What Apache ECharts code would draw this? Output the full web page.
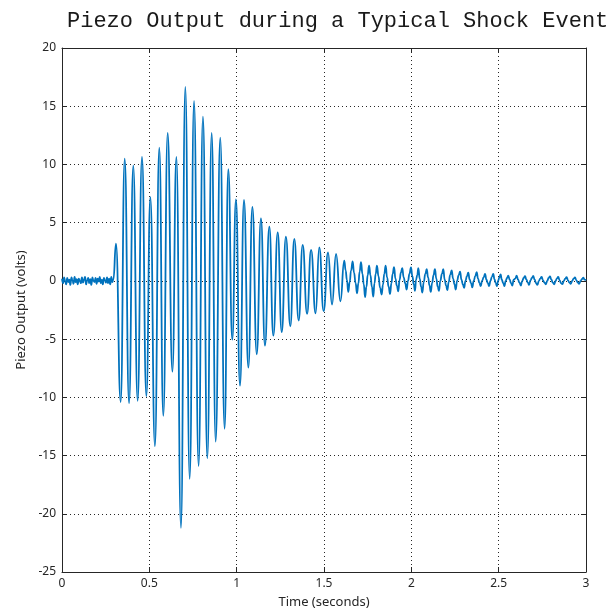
<!DOCTYPE html>
<html>
<head>
<meta charset="utf-8">
<script src="https://cdn.jsdelivr.net/npm/echarts@6/dist/echarts.min.js"></script>
<style>html,body{margin:0;padding:0;background:#fff}#c{width:615px;height:615px}</style>
</head>
<body>
<div id="c"></div>
<script>
// Tick labels
const xTicks = [0, 0.5, 1, 1.5, 2, 2.5, 3];
const yTicks = [-25, -20, -15, -10, -5, 0, 5, 10, 15, 20];

// Pre-event sensor noise
const preTime = [0.000,0.006,0.012,0.018,0.024,0.030,0.036,0.042,0.048,0.054,0.060,0.066,0.072,0.078,0.084,0.090,0.096,0.102,0.108,0.114,0.120,0.126,0.132,0.138,0.144,0.150,0.156,0.162,0.168,0.174,0.180,0.186,0.192,0.198,0.204,0.210,0.216,0.222,0.228,0.234,0.240,0.246,0.252,0.258,0.264,0.270,0.276,0.282,0.288,0.294];
const preVolts = [0.2,-0.2,0.3,0.0,-0.3,0.25,-0.1,0.1,-0.35,0.3,0.05,-0.25,0.35,-0.1,0.15,-0.3,0.2,0.0,-0.2,0.3,-0.15,0.1,0.35,-0.3,0.05,0.25,-0.2,0.15,-0.35,0.3,0.0,-0.1,0.25,-0.25,0.2,-0.05,0.35,-0.2,0.1,-0.3,0.25,0.05,-0.15,0.3,-0.2,0.2,-0.3,0.35,-0.1,0.1];

// Shock event: peaks and troughs
const eventTime = [0.309,0.336,0.359,0.384,0.408,0.433,0.458,0.483,0.506,0.532,0.557,0.580,0.605,0.632,0.655,0.681,0.706,0.731,0.756,0.782,0.807,0.832,0.857,0.880,0.906,0.931,0.952,0.975,0.996,1.019,1.042,1.067,1.090,1.115,1.139,1.162,1.187,1.210,1.235,1.258,1.282,1.307,1.330,1.355,1.378,1.403,1.426,1.452,1.473,1.498,1.523,1.546,1.569,1.594,1.616,1.639,1.664,1.689,1.712,1.735,1.758,1.782,1.803,1.830,1.853,1.878,1.901,1.925,1.948,1.973,1.998,2.021,2.040,2.063,2.088,2.111,2.135,2.158,2.183,2.206,2.231,2.254,2.279,2.302,2.326,2.349,2.374,2.397,2.422,2.445,2.469];
const eventVolts = [3.2,-10.4,10.5,-10.5,9.9,-10.3,10.65,-9.9,7.2,-14.2,11.45,-11.6,12.7,-7.8,10.65,-21.2,16.65,-17.0,15.45,-15.9,14.1,-15.25,12.7,-13.8,12.3,-12.7,9.6,-5.05,7.0,-9.0,6.95,-7.45,6.35,-6.3,5.37,-5.55,4.65,-4.7,4.17,-4.4,3.8,-3.9,3.6,-3.4,3.1,-2.83,2.66,-2.78,2.88,-2.6,2.45,-2.03,2.31,-1.75,1.74,-0.95,1.68,-1.06,1.6,-1.4,1.31,-1.35,1.31,-1.17,1.31,-1.12,1.17,-0.9,1.1,-0.75,1.15,-0.85,1.1,-1.0,1.0,-0.95,1.0,-0.85,1.0,-0.8,0.9,-0.75,0.8,-0.6,0.7,-0.55,0.75,-0.45,0.6,-0.45,0.6];

// Decaying tail
const tailTime = [2.490,2.511,2.533,2.555,2.578,2.603,2.627,2.651,2.674,2.698,2.722,2.746,2.770,2.794,2.818,2.841,2.865,2.889,2.913,2.937,2.961,2.985,3.000];
const tailVolts = [-0.45,0.55,-0.45,0.45,-0.4,0.45,-0.4,0.4,-0.35,0.42,-0.35,0.35,-0.3,0.38,-0.3,0.35,-0.28,0.32,-0.25,0.3,-0.25,0.28,0.05];

// High-frequency sensor noise riding on the ringing tail
const fuzzTime = [1.624,1.631,1.647,1.655,1.672,1.681,1.697,1.704,1.720,1.728,1.743,1.750,1.766,1.774,1.789,1.796,1.812,1.821,1.838,1.845,1.861,1.870,1.886,1.893,1.909,1.917,1.933,1.940,1.956,1.965,1.981,1.989,2.006,2.014,2.027,2.034,2.048,2.056,2.071,2.080,2.096,2.104,2.119,2.127,2.143,2.151,2.166,2.175,2.191,2.199,2.214,2.222,2.239,2.247,2.262,2.271,2.287,2.295,2.310,2.318,2.334,2.342,2.357,2.366,2.382,2.390,2.405,2.414,2.430,2.438,2.453,2.461,2.476,2.483,2.497,2.504,2.518,2.526,2.540,2.548,2.563,2.571,2.586,2.595,2.611,2.619,2.635,2.643,2.659,2.667,2.682,2.690,2.706,2.714,2.730,2.738,2.754,2.762,2.778,2.786,2.802,2.810,2.826,2.833,2.849,2.857,2.873,2.881,2.897,2.905,2.921,2.929,2.945,2.953,2.969,2.977,2.992];
const fuzzVolts = [0.9,0.1,-0.1,0.9,0.7,-0.2,-0.2,0.8,0.6,-0.3,-0.5,0.5,0.5,-0.5,-0.2,0.6,0.4,-0.6,-0.3,0.6,0.3,-0.5,-0.2,0.6,0.2,-0.4,0.1,0.7,0.3,-0.2,0.0,0.6,0.4,-0.3,0.1,0.5,0.2,-0.5,-0.1,0.6,0.3,-0.4,-0.2,0.5,0.2,-0.5,0.0,0.6,0.1,-0.4,-0.1,0.5,0.2,-0.3,0.0,0.5,0.1,-0.3,0.0,0.4,0.1,-0.2,0.0,0.4,0.2,-0.2,0.0,0.3,0.1,-0.2,0.0,0.35,0.15,-0.2,0.0,0.3,0.1,-0.2,0.0,0.25,0.1,-0.2,0.1,0.2,0.1,-0.15,0.0,0.25,0.1,-0.15,0.05,0.25,0.1,-0.2,0.0,0.2,0.05,-0.15,0.0,0.25,0.1,-0.15,0.0,0.2,0.05,-0.2,0.0,0.2,0.05,-0.15,0.0,0.2,0.05,-0.15,0.0,0.15,0.1];

const times = preTime.concat(eventTime, tailTime, fuzzTime);
const volts = preVolts.concat(eventVolts, tailVolts, fuzzVolts);
const seriesData = times.map((t, i) => [t, volts[i]]).sort((a, b) => a[0] - b[0]);

const axisColor = '#262626';
const labelFont = 'Noto Sans';
const gridDash = { color: axisColor, width: 1, type: [1, 3] };

const chart = echarts.init(document.getElementById('c'), null, { renderer: 'canvas' });
chart.setOption({
  animation: false,
  backgroundColor: '#fff',
  title: {
    text: 'Piezo Output during a Typical Shock Event',
    left: 62, top: 5,
    textStyle: { fontFamily: 'Liberation Mono', fontSize: 22, fontWeight: 'normal', color: '#1a1a1a' }
  },
  grid: { left: 62, right: 29, top: 48, bottom: 43, containLabel: false },
  xAxis: [{
    type: 'value', min: 0, max: 3, interval: 0.5, position: 'bottom',
    name: 'Time (seconds)', nameLocation: 'middle', nameGap: 24,
    nameTextStyle: { fontFamily: labelFont, fontSize: 13, color: axisColor },
    axisLine: { show: true, onZero: false, lineStyle: { color: axisColor, width: 1 } },
    axisTick: { show: true, inside: true, length: 5, lineStyle: { color: axisColor } },
    axisLabel: { fontFamily: labelFont, fontSize: 12, color: axisColor, margin: 6,
      formatter: v => xTicks.includes(v) ? String(v) : '' },
    splitLine: { show: true, lineStyle: gridDash }
  }, {
    type: 'value', min: 0, max: 3, interval: 0.5, position: 'top',
    axisLine: { show: true, onZero: false, lineStyle: { color: axisColor, width: 1 } },
    axisTick: { show: true, inside: true, length: 5, lineStyle: { color: axisColor } },
    axisLabel: { show: false }, splitLine: { show: false }
  }],
  yAxis: [{
    type: 'value', min: -25, max: 20, interval: 5, position: 'left',
    name: 'Piezo Output (volts)', nameLocation: 'middle', nameGap: 34,
    nameTextStyle: { fontFamily: labelFont, fontSize: 13, color: axisColor },
    axisLine: { show: true, onZero: false, lineStyle: { color: axisColor, width: 1 } },
    axisTick: { show: true, inside: true, length: 5, lineStyle: { color: axisColor } },
    axisLabel: { fontFamily: labelFont, fontSize: 12, color: axisColor, margin: 6,
      formatter: v => yTicks.includes(v) ? String(v) : '' },
    splitLine: { show: true, lineStyle: gridDash }
  }, {
    type: 'value', min: -25, max: 20, interval: 5, position: 'right',
    axisLine: { show: true, onZero: false, lineStyle: { color: axisColor, width: 1 } },
    axisTick: { show: true, inside: true, length: 5, lineStyle: { color: axisColor } },
    axisLabel: { show: false }, splitLine: { show: false }
  }],
  series: [{
    type: 'line', xAxisIndex: 0, yAxisIndex: 0,
    data: seriesData, showSymbol: false, symbol: 'none',
    smooth: 0.5, smoothMonotone: 'x',
    lineStyle: { color: '#0072BD', width: 1.8 },
    z: 3
  }]
});
</script>
</body>
</html>
